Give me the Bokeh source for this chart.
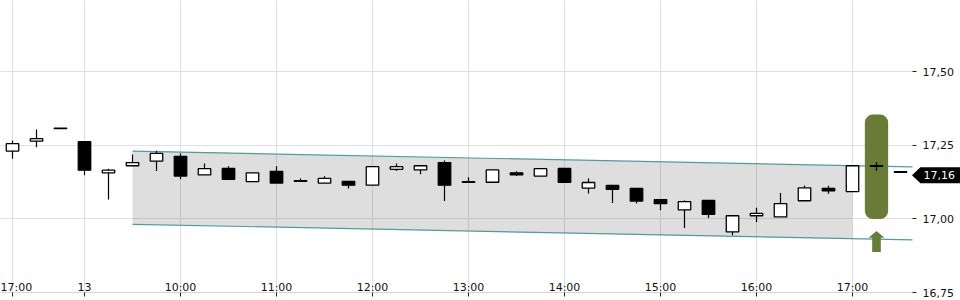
from bokeh.plotting import figure
from bokeh.models import Range1d, FixedTicker, BoxAnnotation
from bokeh.core.properties import value
from bokeh.embed import file_html
from bokeh.resources import INLINE

# ---- data ----
opens  = [17.231, 17.265, 17.307, 17.263, 17.157, 17.181, 17.197, 17.213, 17.150, 17.172,
          17.127, 17.162, 17.128, 17.122, 17.128, 17.115, 17.169, 17.167, 17.192, 17.125,
          17.125, 17.157, 17.146, 17.172, 17.105, 17.114, 17.104, 17.066, 17.031, 17.063,
          16.956, 17.011, 17.007, 17.062, 17.104, 17.093, 17.179, 17.159]
highs  = [17.267, 17.304, 17.307, 17.263, 17.171, 17.219, 17.232, 17.223, 17.189, 17.179,
          17.157, 17.179, 17.138, 17.145, 17.128, 17.178, 17.189, 17.181, 17.199, 17.142,
          17.167, 17.162, 17.171, 17.172, 17.138, 17.114, 17.104, 17.066, 17.063, 17.063,
          17.011, 17.038, 17.088, 17.114, 17.113, 17.181, 17.193, 17.159]
lows   = [17.205, 17.244, 17.307, 17.149, 17.066, 17.181, 17.163, 17.135, 17.150, 17.135,
          17.127, 17.122, 17.128, 17.122, 17.104, 17.115, 17.163, 17.152, 17.061, 17.125,
          17.125, 17.146, 17.146, 17.125, 17.087, 17.054, 17.053, 17.030, 16.969, 17.003,
          16.945, 16.989, 17.007, 17.062, 17.086, 17.093, 17.164, 17.159]
closes = [17.256, 17.273, 17.307, 17.166, 17.166, 17.192, 17.223, 17.146, 17.171, 17.135,
          17.157, 17.122, 17.128, 17.138, 17.115, 17.178, 17.178, 17.181, 17.115, 17.125,
          17.167, 17.150, 17.171, 17.125, 17.124, 17.101, 17.061, 17.052, 17.059, 17.016,
          17.011, 17.019, 17.052, 17.106, 17.096, 17.181, 17.179, 17.159]

x_tick_idx = [0, 3, 7, 11, 15, 19, 23, 27, 31, 35]
x_tick_labels = ["17:00", "13", "10:00", "11:00", "12:00", "13:00", "14:00", "15:00", "16:00", "17:00"]
y_ticks = [16.75, 17.00, 17.25, 17.50]
y_tick_labels = ["16,75", "17,00", "17,25", "17,50"]

# trend channel (index positions and values)
channel_x = [5, 35, 37.5]
channel_top = [17.231, 17.181, 17.177]
channel_bottom = [16.982, 16.932, 16.929]

# signal marker
signal_x = 36
signal_top = 17.355
signal_bottom = 17.00
arrow_top = 16.959
arrow_neck = 16.936
arrow_bottom = 16.888

last_price = 17.16
last_price_label = "17,16"
tag_y = 17.149

GREEN = "#687b37"
TEAL = "#4f9ba1"
FONT = "DejaVu Sans"

n = len(opens)
xs = list(range(n))
plot_end = 37.5     # right edge of the chart area (index units)
canvas_end = 39.5   # right edge of the canvas (index units)
y_floor = 16.75     # bottom of the chart area (price)

p = figure(width=960, height=300,
           x_range=Range1d(-0.5, canvas_end), y_range=Range1d(16.7228, 17.743),
           output_backend="svg", toolbar_location=None,
           y_axis_location="right",
           min_border_left=0, min_border_top=0, min_border_right=0, min_border_bottom=0)
p.outline_line_color = None
p.background_fill_color = "white"
p.border_fill_color = "white"

# axes
xa = p.xaxis[0]
xa.fixed_location = y_floor
xa.ticker = FixedTicker(ticks=x_tick_idx)
xa.major_label_overrides = {k: v for k, v in zip(x_tick_idx, x_tick_labels)}
xa.bounds = (-0.5, plot_end)
xa.axis_line_color = "#d4d4d4"
xa.major_tick_in = 0
xa.major_tick_out = 4
xa.major_tick_line_color = "#222222"
xa.minor_tick_line_color = None
xa.major_label_standoff = -16
xa.major_label_text_font = FONT
xa.major_label_text_font_size = "11px"
xa.major_label_text_color = "#111111"

ya = p.yaxis[0]
ya.fixed_location = plot_end
ya.ticker = FixedTicker(ticks=y_ticks)
ya.major_label_overrides = {k: v for k, v in zip(y_ticks, y_tick_labels)}
ya.axis_line_color = None
ya.major_tick_in = 0
ya.major_tick_out = 4
ya.major_tick_line_color = "#222222"
ya.minor_tick_line_color = None
ya.major_label_standoff = 6
ya.major_label_text_font = FONT
ya.major_label_text_font_size = "11px"
ya.major_label_text_color = "#111111"

p.xgrid.ticker = FixedTicker(ticks=x_tick_idx)
p.ygrid.ticker = FixedTicker(ticks=y_ticks)
p.grid.grid_line_color = "#e0e0e0"
p.grid.grid_line_width = 1

# mask grid lines in the label margins
p.add_layout(BoxAnnotation(left=plot_end, fill_color="white", fill_alpha=1.0,
                           line_color=None, level="underlay"))
p.add_layout(BoxAnnotation(top=y_floor - 0.001, fill_color="white", fill_alpha=1.0,
                           line_color=None, level="underlay"))

# channel
p.patch(x=[channel_x[0], channel_x[1], channel_x[1], channel_x[0]],
        y=[channel_top[0], channel_top[1], channel_bottom[1], channel_bottom[0]],
        fill_color="black", fill_alpha=0.13, line_color=None)
p.line(x=[channel_x[0], channel_x[2]], y=[channel_top[0], channel_top[2]], line_color=TEAL, line_width=1.2)
p.line(x=[channel_x[0], channel_x[2]], y=[channel_bottom[0], channel_bottom[2]], line_color=TEAL, line_width=1.2)

# signal marker
p.vbar(x=[signal_x], top=[signal_top], bottom=[signal_bottom], width=0.97,
       fill_color=GREEN, line_color=None, border_radius=8)
hw, sw = 0.33, 0.18
p.patch(x=[signal_x, signal_x + hw, signal_x + sw, signal_x + sw, signal_x - sw, signal_x - sw, signal_x - hw],
        y=[arrow_top, arrow_neck, arrow_neck, arrow_bottom, arrow_bottom, arrow_neck, arrow_neck],
        fill_color=GREEN, line_color=None)

# candles
p.segment(x0=xs, y0=lows, x1=xs, y1=highs, line_color="black", line_width=1.2)
tops = [max(o, c) for o, c in zip(opens, closes)]
bots = [min(o, c) for o, c in zip(opens, closes)]
tops = [t if t - b > 0.002 else b + 0.002 for t, b in zip(tops, bots)]
fills = ["white" if c >= o else "black" for o, c in zip(opens, closes)]
p.vbar(x=xs, top=tops, bottom=bots, width=0.52, fill_color=fills, line_color="black", line_width=1.3)

# last price tag
dy = 0.0272
p.patch(x=[plot_end - 0.02, plot_end + 0.33, canvas_end, canvas_end, plot_end + 0.33],
        y=[tag_y, tag_y + dy, tag_y + dy, tag_y - dy, tag_y - dy],
        fill_color="black", line_color=None)
p.text(x=[plot_end + 0.46], y=[tag_y], text=[last_price_label], text_align="left",
       text_baseline="middle", text_color="white", text_font=value(FONT),
       text_font_size="11px")

open("out.html", "w").write(file_html(p, INLINE))
